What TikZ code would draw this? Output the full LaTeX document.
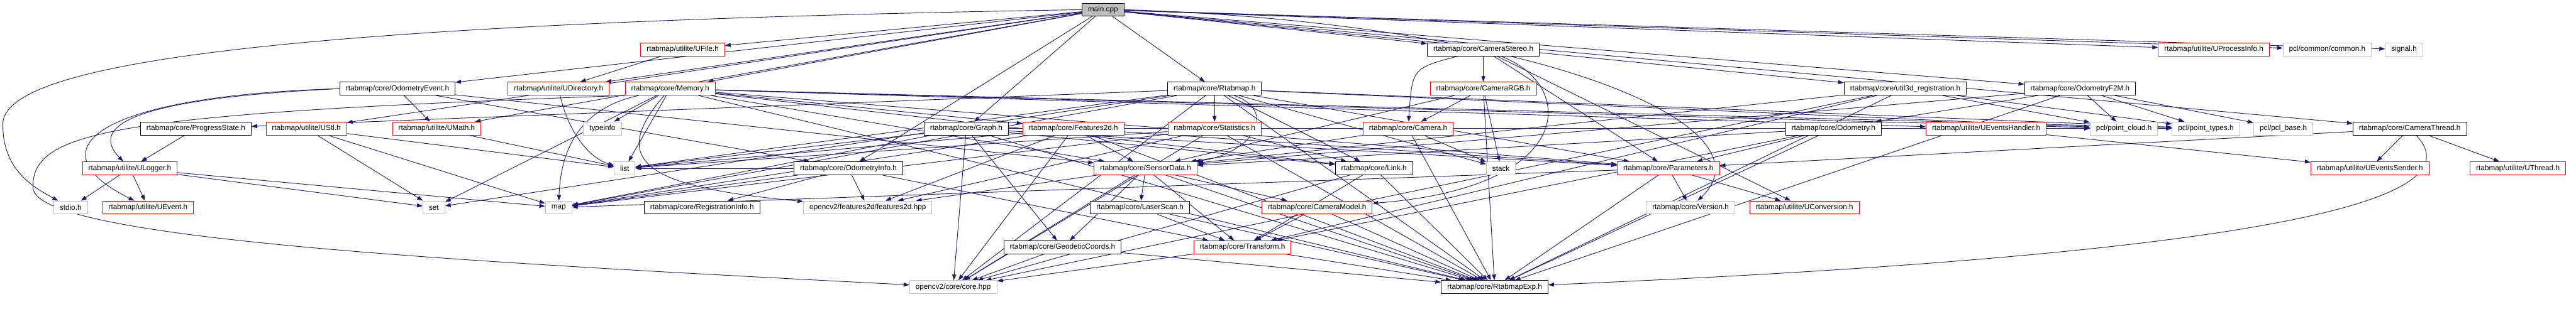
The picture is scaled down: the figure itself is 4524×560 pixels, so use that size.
\documentclass[tikz,border=0pt]{standalone}
\usepackage{fontspec}
\setmainfont{Liberation Sans}
\usetikzlibrary{arrows.meta,backgrounds}
\definecolor{azul}{HTML}{191970}
\begin{document}
\begin{tikzpicture}[
  x=1pt, y=-1pt,
  caja/.style={draw=black, fill=white, line width=1pt, minimum height=23pt,
               inner xsep=10.5pt, inner ysep=0pt, font=\fontsize{13}{15}\selectfont},
  cajaroja/.style={caja, draw=red},
  cajagris/.style={caja, draw=gray!50},
  raiz/.style={caja, fill=gray!50},
  flecha/.style={-{Triangle[length=10pt,width=7pt]}, draw=azul, line width=1pt}
]
  \useasboundingbox (0,0) rectangle (4524,560);
  % nivel 0 y 1
  \node[raiz] (main) at (1937,17) {main.cpp};
  \node[cajaroja] (ufile) at (1199,87) {rtabmap/utilite/UFile.h};
  \node[caja] (camstereo) at (2605,87) {rtabmap/core/CameraStereo.h};
  \node[cajaroja] (uprocinfo) at (3888,87) {rtabmap/utilite/UProcessInfo.h};
  \node[cajagris] (pclcommon) at (4087,87) {pcl/common/common.h};
  \node[cajagris] (signal) at (4222,87) {signal.h};
  % nivel 2
  \node[caja] (odomevent) at (698,156) {rtabmap/core/OdometryEvent.h};
  \node[cajaroja] (udir) at (981,156) {rtabmap/utilite/UDirectory.h};
  \node[cajaroja] (memory) at (1177,156) {rtabmap/core/Memory.h};
  \node[caja] (rtabmap) at (2133,156) {rtabmap/core/Rtabmap.h};
  \node[cajaroja] (camrgb) at (2605,156) {rtabmap/core/CameraRGB.h};
  \node[caja] (util3dreg) at (3346,156) {rtabmap/core/util3d\_registration.h};
  \node[caja] (odomf2m) at (3653,156) {rtabmap/core/OdometryF2M.h};
  % nivel 3
  \node[caja] (progress) at (344,226) {rtabmap/core/ProgressState.h};
  \node[cajaroja] (ustl) at (538,226) {rtabmap/utilite/UStl.h};
  \node[cajaroja] (umath) at (767,226) {rtabmap/utilite/UMath.h};
  \node[cajagris] (typeinfo) at (1058,226) {typeinfo};
  \node[caja] (graph) at (1697,226) {rtabmap/core/Graph.h};
  \node[cajaroja] (feat2d) at (1885,226) {rtabmap/core/Features2d.h};
  \node[cajaroja] (stats) at (2133,226) {rtabmap/core/Statistics.h};
  \node[cajaroja] (camera) at (2473,226) {rtabmap/core/Camera.h};
  \node[caja] (odometry) at (3220,226) {rtabmap/core/Odometry.h};
  \node[cajaroja] (uevhandler) at (3488,226) {rtabmap/utilite/UEventsHandler.h};
  \node[cajagris] (pclcloud) at (3730,226) {pcl/point\_cloud.h};
  \node[cajagris] (pcltypes) at (3874,226) {pcl/point\_types.h};
  \node[cajagris] (pclbase) at (4010,226) {pcl/pcl\_base.h};
  \node[caja] (camthread) at (4232,226) {rtabmap/core/CameraThread.h};
  % nivel 4
  \node[cajaroja] (ulogger) at (228,296) {rtabmap/utilite/ULogger.h};
  \node[cajagris] (stdlist) at (1097,296) {list};
  \node[caja] (odominfo) at (1490,296) {rtabmap/core/OdometryInfo.h};
  \node[cajaroja] (sensordata) at (2012,296) {rtabmap/core/SensorData.h};
  \node[caja] (link) at (2413,296) {rtabmap/core/Link.h};
  \node[cajagris] (stdstack) at (2636,296) {stack};
  \node[cajaroja] (params) at (2930,296) {rtabmap/core/Parameters.h};
  \node[cajaroja] (uevsender) at (4162,296) {rtabmap/utilite/UEventsSender.h};
  \node[cajaroja] (uthread) at (4422,296) {rtabmap/utilite/UThread.h};
  % nivel 5
  \node[cajagris] (stdio) at (124,365) {stdio.h};
  \node[cajaroja] (uevent) at (260,365) {rtabmap/utilite/UEvent.h};
  \node[cajagris] (stdset) at (762,365) {set};
  \node[cajagris] (stdmap) at (981,365) {map};
  \node[caja] (reginfo) at (1233,365) {rtabmap/core/RegistrationInfo.h};
  \node[cajagris] (cvfeat) at (1524,365) {opencv2/features2d/features2d.hpp};
  \node[caja] (laserscan) at (2002,365) {rtabmap/core/LaserScan.h};
  \node[cajaroja] (cammodel) at (2313,365) {rtabmap/core/CameraModel.h};
  \node[cajagris] (version) at (2969,365) {rtabmap/core/Version.h};
  \node[cajaroja] (uconv) at (3169,365) {rtabmap/utilite/UConversion.h};
  % niveles 6 y 7
  \node[caja] (geodetic) at (1866,435) {rtabmap/core/GeodeticCoords.h};
  \node[cajaroja] (transform) at (2182,435) {rtabmap/core/Transform.h};
  \node[cajagris] (cvcore) at (1674,505) {opencv2/core/core.hpp};
  \node[caja] (rtabexp) at (2625,505) {rtabmap/core/RtabmapExp.h};

  \begin{scope}[on background layer]
  % main.cpp
  \draw[flecha] (main) -- (rtabmap);
  \draw[flecha] (main) -- (camstereo);
  \draw[flecha] (main) -- (camthread);
  \draw[flecha] (main) -- (graph);
  \draw[flecha] (main) -- (odominfo);
  \draw[flecha] (main) -- (odomevent);
  \draw[flecha] (main) -- (memory);
  \draw[flecha] (main) -- (util3dreg);
  \draw[flecha] (main) -- (odomf2m);
  \draw[flecha] (main) -- (udir);
  \draw[flecha] (main) -- (ufile);
  \draw[flecha] (main) -- (umath);
  \draw[flecha] (main) -- (ustl);
  \draw[flecha] (main) -- (uprocinfo);
  \draw[flecha] (main) -- (pclcommon);
  \draw[flecha] (main) -- (signal);
  \draw[flecha] (main.west) .. controls (500,40) and (0,110) .. (5,220) .. controls (5,300) and (60,330) .. (stdio);
  \draw[flecha] (main.east) .. controls (2700,40) and (3120,220) .. (version);
  % utilite
  \draw[flecha] (ufile) -- (udir);
  \draw[flecha] (udir) .. controls (1000,240) and (1040,280) .. (stdlist);
  \draw[flecha] (progress) -- (ulogger);
  \draw[flecha] (ulogger) -- (stdio);
  \draw[flecha] (ulogger) -- (uevent);
  \draw[flecha] (ulogger) -- (stdset);
  \draw[flecha] (ulogger) -- (stdmap);
  \draw[flecha] (ustl) -- (stdlist);
  \draw[flecha] (ustl) -- (stdmap);
  \draw[flecha] (ustl) -- (stdset);
  \draw[flecha] (umath) -- (stdlist);
  \draw[flecha] (uevhandler) -- (uevsender);
  % OdometryEvent.h
  \draw[flecha] (odomevent.west) .. controls (180,168) and (50,260) .. (uevent);
  \draw[flecha] (odomevent.west) .. controls (260,172) and (150,215) .. (ulogger);
  \draw[flecha] (odomevent) -- (umath);
  \draw[flecha] (odomevent) -- (sensordata);
  \draw[flecha] (odomevent) -- (odominfo);
  % Memory.h
  \draw[flecha] (memory) -- (typeinfo);
  \draw[flecha] (memory) -- (stdlist);
  \draw[flecha] (memory) .. controls (1020,190) and (985,260) .. (stdmap);
  \draw[flecha] (memory) -- (stdset);
  \draw[flecha] (memory) .. controls (1060,290) and (1150,330) .. (cvfeat);
  \draw[flecha] (memory.south west) .. controls (200,200) and (55,230) .. (58,330) .. controls (60,420) and (800,460) .. (cvcore);
  \draw[flecha] (memory) -- (uevhandler);
  \draw[flecha] (memory) -- (params);
  \draw[flecha] (memory) -- (sensordata);
  \draw[flecha] (memory) -- (link);
  \draw[flecha] (memory) -- (feat2d);
  \draw[flecha] (memory) -- (rtabexp);
  \draw[flecha] (memory) -- (pclcloud);
  \draw[flecha] (memory) -- (pcltypes);
  % Rtabmap.h
  \draw[flecha] (rtabmap) -- (stats);
  \draw[flecha] (rtabmap) .. controls (2245,195) and (2200,270) .. (sensordata);
  \draw[flecha] (rtabmap) -- (rtabexp);
  \draw[flecha] (rtabmap) -- (params);
  \draw[flecha] (rtabmap) -- (link);
  \draw[flecha] (rtabmap) -- (progress);
  \draw[flecha] (rtabmap) -- (cvcore);
  \draw[flecha] (rtabmap) -- (stdlist);
  \draw[flecha] (rtabmap) -- (stdstack);
  \draw[flecha] (rtabmap) -- (stdset);
  \draw[flecha] (rtabmap) -- (stdmap);
  \draw[flecha] (rtabmap) -- (pclcloud);
  \draw[flecha] (rtabmap) -- (pcltypes);
  % Statistics.h
  \draw[flecha] (stats) -- (rtabexp);
  \draw[flecha] (stats) -- (cvcore);
  \draw[flecha] (stats) -- (cvfeat);
  \draw[flecha] (stats) -- (stdlist);
  \draw[flecha] (stats) -- (stdmap);
  \draw[flecha] (stats) -- (link);
  % Graph.h
  \draw[flecha] (graph) -- (geodetic);
  \draw[flecha] (graph) -- (rtabexp);
  \draw[flecha] (graph) -- (cvcore);
  \draw[flecha] (graph) -- (stdmap);
  \draw[flecha] (graph) -- (stdlist);
  \draw[flecha] (graph) -- (link);
  \draw[flecha] (graph) -- (pclcloud);
  \draw[flecha] (graph) -- (pcltypes);
  \draw[flecha] (graph) -- (params);
  % Features2d.h
  \draw[flecha] (feat2d) -- (sensordata);
  \draw[flecha] (feat2d) -- (rtabexp);
  \draw[flecha] (feat2d) -- (params);
  \draw[flecha] (feat2d) -- (cvcore);
  \draw[flecha] (feat2d) -- (cvfeat);
  \draw[flecha] (feat2d) -- (stdlist);
  \draw[flecha] (feat2d) -- (stdmap);
  % camaras
  \draw[flecha] (camstereo) -- (camrgb);
  \draw[flecha] (camstereo) .. controls (2480,120) .. (camera);
  \draw[flecha] (camstereo) .. controls (2770,150) and (2770,330) .. (cammodel);
  \draw[flecha] (camstereo) -- (params);
  \draw[flecha] (camstereo) -- (uconv);
  \draw[flecha] (camrgb) -- (camera);
  \draw[flecha] (camrgb) -- (stdstack);
  \draw[flecha] (camrgb) -- (sensordata);
  \draw[flecha] (camrgb) -- (rtabexp);
  \draw[flecha] (camera) -- (rtabexp);
  \draw[flecha] (camera) -- (sensordata);
  \draw[flecha] (camera) -- (stdstack);
  \draw[flecha] (camthread) -- (uevsender);
  \draw[flecha] (camthread) -- (uthread);
  \draw[flecha] (camthread) -- (params);
  \draw[flecha] (camthread) .. controls (4330,330) and (4150,440) .. (rtabexp);
  % SensorData.h
  \draw[flecha] (sensordata) -- (laserscan);
  \draw[flecha] (sensordata) -- (transform);
  \draw[flecha] (sensordata) -- (cammodel);
  \draw[flecha] (sensordata) -- (geodetic);
  \draw[flecha] (sensordata) -- (cvcore);
  \draw[flecha] (sensordata) -- (cvfeat);
  \draw[flecha] (sensordata) -- (rtabexp);
  % OdometryInfo.h
  \draw[flecha] (odominfo) -- (stdmap);
  \draw[flecha] (odominfo) -- (reginfo);
  \draw[flecha] (odominfo) -- (transform);
  \draw[flecha] (odominfo) -- (cvfeat);
  \draw[flecha] (odominfo) -- (stdlist);
  % Link.h, LaserScan.h, CameraModel.h, Transform.h
  \draw[flecha] (link) -- (transform);
  \draw[flecha] (link) -- (rtabexp);
  \draw[flecha] (link) -- (cvcore);
  \draw[flecha] (laserscan) -- (transform);
  \draw[flecha] (laserscan) -- (rtabexp);
  \draw[flecha] (cammodel) -- (transform);
  \draw[flecha] (cammodel) -- (rtabexp);
  \draw[flecha] (transform) -- (rtabexp);
  \draw[flecha] (transform) -- (cvcore);
  \draw[flecha] (geodetic) -- (cvcore);
  \draw[flecha] (geodetic) -- (rtabexp);
  % Parameters.h
  \draw[flecha] (params) -- (rtabexp);
  \draw[flecha] (params) -- (version);
  \draw[flecha] (params) -- (uconv);
  \draw[flecha] (params) -- (stdmap);
  % odometria
  \draw[flecha] (util3dreg) -- (rtabexp);
  \draw[flecha] (util3dreg) -- (transform);
  \draw[flecha] (util3dreg) -- (cvcore);
  \draw[flecha] (util3dreg) -- (pclcloud);
  \draw[flecha] (util3dreg) -- (pcltypes);
  \draw[flecha] (util3dreg) -- (sensordata);
  \draw[flecha] (odomf2m) -- (odometry);
  \draw[flecha] (odomf2m) -- (pclcloud);
  \draw[flecha] (odomf2m) -- (pcltypes);
  \draw[flecha] (odomf2m) -- (pclbase);
  \draw[flecha] (odomf2m) -- (sensordata);
  \draw[flecha] (odomf2m) -- (rtabexp);
  \draw[flecha] (odometry) -- (rtabexp);
  \draw[flecha] (odometry) -- (params);
  \draw[flecha] (odometry) -- (transform);
  \draw[flecha] (odometry) -- (sensordata);
  \end{scope}
\end{tikzpicture}
\end{document}
